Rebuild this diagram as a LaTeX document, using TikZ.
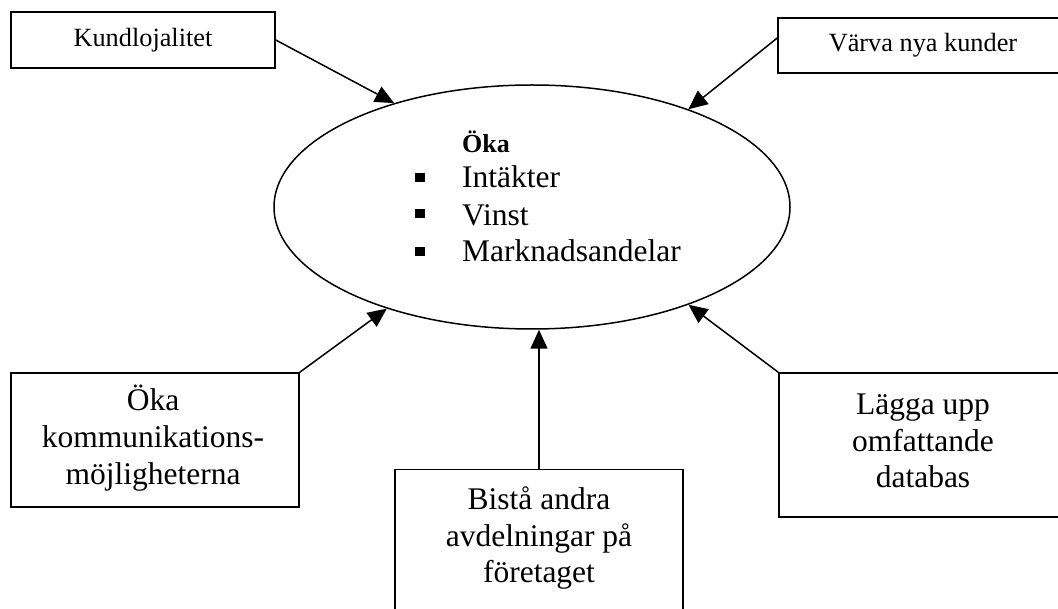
\documentclass[tikz,border=0pt]{standalone}
\usepackage{fontspec}
\setmainfont{Liberation Serif}
\usetikzlibrary{arrows.meta,shapes.geometric}
\tikzset{
  box/.style={draw, line width=1.5pt, inner sep=0pt},
  bigtext/.style={font=\fontsize{31.5}{36.8}\selectfont, align=center, inner sep=0pt},
  smalltext/.style={font=\fontsize{26.3}{30}\selectfont},
  arr/.style={line width=1.5pt, -{Triangle[length=19pt,width=17pt]}},
  bulletsq/.style={fill, minimum width=9.5pt, minimum height=9pt, inner sep=0pt},
  itemtext/.style={font=\fontsize{31.5}{36}\selectfont, anchor=base west, inner sep=0pt}
}
\begin{document}
\begin{tikzpicture}[x=1pt,y=-1pt]
\useasboundingbox (0,0) rectangle (1058,609);
\clip (0,0) rectangle (1058,609);
% central ellipse
\node[draw, ellipse, line width=1.5pt, minimum width=516pt, minimum height=244pt, inner sep=0pt] (ell) at (532,207) {};
\node[font=\fontsize{26}{30}\selectfont\bfseries, anchor=base west, inner sep=0pt] (oka) at (462,153) {Öka};
\node[bulletsq] (b1) at (420,178) {};
\node[bulletsq] (b2) at (420,214) {};
\node[bulletsq] (b3) at (420,251.5) {};
\node[itemtext] (i1) at (462,188) {Intäkter};
\node[itemtext] (i2) at (462,226) {Vinst};
\node[itemtext] (i3) at (462,262) {Marknadsandelar};
% top boxes
\node[box, smalltext, minimum width=264pt, minimum height=56pt] (kund) at (143,40) {Kundlojalitet};
\node[box, smalltext, minimum width=290pt, minimum height=55pt] (varva) at (923,45.5) {Värva nya kunder};
% bottom boxes
\node[box, minimum width=288pt, minimum height=134pt] (kom) at (155,440) {};
\node[bigtext] (komt) at (153,438) {Öka\\kommunikations-\\möjligheterna};
\node[box, minimum width=288pt, minimum height=200pt, anchor=north] (bc) at (539,469) {};
\node[bigtext] (bct) at (539,538) {Bistå andra\\avdelningar på\\företaget};
\node[box, minimum width=288pt, minimum height=144pt] (db) at (923,445) {};
\node[bigtext] (dbt) at (923,441) {Lägga upp\\omfattande\\databas};
% arrows
\draw[arr] (kund.east) -- (ell.143.9);
\draw[arr] ([yshift=7.5pt]varva.west) -- (ell.32.6);
\draw[arr] (kom.north east) -- (ell.215.2);
\draw[arr] (bc.north) -- (bc.north |- ell.south);
\draw[arr] (db.north west) -- (ell.328.2);
\end{tikzpicture}
\end{document}
